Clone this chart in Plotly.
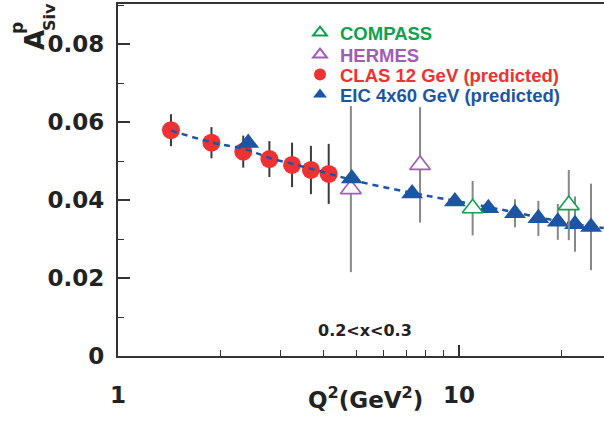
import plotly.graph_objects as go

# ---------------- data ----------------
clas_q2 = [1.43, 1.88, 2.33, 2.78, 3.24, 3.68, 4.15]
clas_a = [0.0579, 0.0547, 0.0524, 0.0505, 0.0490, 0.0477, 0.0467]
clas_err = [0.0041, 0.0040, 0.0041, 0.0046, 0.0057, 0.0062, 0.0077]

eic_q2 = [2.41, 4.85, 7.29, 9.73, 12.2, 14.6, 17.1, 19.5, 21.9, 24.4]
eic_a = [0.0546, 0.0455, 0.0417, 0.0396, 0.0379, 0.0366, 0.0353, 0.0344, 0.0338, 0.0331]
eic_err = [0.0, 0.0, 0.0, 0.0, 0.0, 0.0036, 0.0045, 0.0046, 0.0071, 0.0111]

hermes_q2 = [4.82, 7.69]
hermes_a = [0.0428, 0.0490]
hermes_err = [0.0213, 0.0148]

compass_q2 = [10.97, 21.0]
compass_a = [0.0379, 0.0387]
compass_err = [0.0070, 0.0090]

curve_q2 = [1.43, 1.88, 2.41, 2.78, 3.24, 3.68, 4.15, 4.82, 7.3, 9.73, 12.2, 14.6, 17.1, 19.5, 21.9, 26.6]
curve_a = [0.0578, 0.0548, 0.0528, 0.0508, 0.0493, 0.0480, 0.0468, 0.0452, 0.0418,
           0.0398, 0.0382, 0.0368, 0.0356, 0.0346, 0.0338, 0.0328]

x_tick_vals = [1, 10]
x_tick_text = ["1", "10"]
y_tick_vals = [0, 0.02, 0.04, 0.06, 0.08]
y_tick_text = ["0", "0.02", "0.04", "0.06", "0.08"]

# ---------------- styling ----------------
W, H = 604, 423
L, R, T, B = 118, 0, 4, 67
FONT = "Liberation Sans, Arial, Helvetica, sans-serif"
AXFONT = "DejaVu Sans, Verdana, sans-serif"
GREEN = "#11a04e"
PURPLE = "#a25cb4"
RED = "#ee3131"
BLUE = "#1d55a5"
INK = "#222222"


def px2paper(px, py):
    return (px - L) / (W - L - R), (H - B - py) / (H - B - T)


fig = go.Figure()

fig.add_trace(go.Scatter(
    x=hermes_q2, y=hermes_a, mode="markers",
    name=f"<span style='color:{PURPLE}'>HERMES</span>", legend="legend2",
    marker=dict(symbol="triangle-up", size=18, color="white",
                line=dict(color=PURPLE, width=1.6)),
    error_y=dict(type="data", array=hermes_err, color="#888888", thickness=2, width=0),
))

fig.add_trace(go.Scatter(
    x=clas_q2, y=clas_a, mode="markers",
    name=f"<span style='color:{RED}'>CLAS 12 GeV (predicted)</span>", legend="legend3",
    marker=dict(symbol="circle", size=18, color=RED, line=dict(width=0)),
    error_y=dict(type="data", array=clas_err, color="#3a3a3a", thickness=2, width=0),
))

fig.add_trace(go.Scatter(
    x=eic_q2, y=eic_a, mode="markers",
    name=f"<span style='color:{BLUE}'>EIC 4x60 GeV (predicted)</span>", legend="legend4",
    marker=dict(symbol="triangle-up", size=19, color=BLUE, line=dict(width=0)),
    error_y=dict(type="data", array=eic_err, color="#888888", thickness=2, width=0),
))

fig.add_trace(go.Scatter(
    x=curve_q2, y=curve_a, mode="lines", showlegend=False,
    line=dict(color=BLUE, width=2.5, dash="6px,5px", shape="spline"),
))

fig.add_trace(go.Scatter(
    x=compass_q2, y=compass_a, mode="markers",
    name=f"<span style='color:{GREEN}'>COMPASS</span>", legend="legend",
    marker=dict(symbol="triangle-up", size=18, color="white",
                line=dict(color=GREEN, width=1.6)),
    error_y=dict(type="data", array=compass_err, color="#888888", thickness=2, width=0),
))


def leg(center_py):
    x, y = px2paper(300, center_py - 18)
    return dict(x=x, y=y, xanchor="left", yanchor="top",
                bgcolor="rgba(0,0,0,0)", itemsizing="constant",
                font=dict(family=FONT, size=18.5, weight="bold"))


fig.update_layout(
    width=W, height=H,
    margin=dict(l=L, r=R, t=T, b=B, pad=0),
    paper_bgcolor="white", plot_bgcolor="white",
    font=dict(family=FONT, color=INK),
    showlegend=True,
    legend=leg(32), legend2=leg(54), legend3=leg(74), legend4=leg(94),
)

fig.update_xaxes(
    type="log", range=[0, 1.4255],
    tickvals=x_tick_vals, ticktext=x_tick_text,
    ticks="inside", ticklen=11, tickwidth=1.5, tickcolor="#333333",
    ticklabelstandoff=17,
    tickfont=dict(family=AXFONT, size=23, weight="bold", color=INK),
    minor=dict(ticks="inside", ticklen=6, tickwidth=1.2, tickcolor="#333333",
               tickvals=[2, 3, 4, 5, 6, 7, 8, 9, 20]),
    showline=True, linewidth=2.2, linecolor="#333333", mirror=True,
    showgrid=False, zeroline=False,
)

fig.update_yaxes(
    range=[0, 0.09026],
    tickvals=y_tick_vals, ticktext=y_tick_text,
    ticks="inside", ticklen=12, tickwidth=1.5, tickcolor="#333333",
    ticklabelstandoff=7,
    tickfont=dict(family=AXFONT, size=23, weight="bold", color=INK),
    minor=dict(ticks="inside", ticklen=6, tickwidth=1.2, tickcolor="#333333", dtick=0.01),
    showline=True, linewidth=2.2, linecolor="#333333", mirror=False,
    showgrid=False, zeroline=False,
)

annotations = []


def ann(text, px, py, size, angle=0, family=AXFONT):
    x, y = px2paper(px, py)
    annotations.append(dict(
        text=text, x=x, y=y, xref="paper", yref="paper",
        xanchor="center", yanchor="middle", showarrow=False, textangle=angle,
        font=dict(family=family, size=size, weight="bold", color=INK),
    ))


ann("Q<sup>2</sup>(GeV<sup>2</sup>)", 365, 398, 23)
ann("0.2&lt;x&lt;0.3", 365, 330, 16)
ann("A", 35, 40, 26, -90)
ann("Siv", 49, 17, 16, -90)
ann("p", 17, 28, 17, -90)

fig.update_layout(annotations=annotations)

fig.write_html("out.html", config={"displayModeBar": False},
               post_script="document.body.style.margin='0px';")
